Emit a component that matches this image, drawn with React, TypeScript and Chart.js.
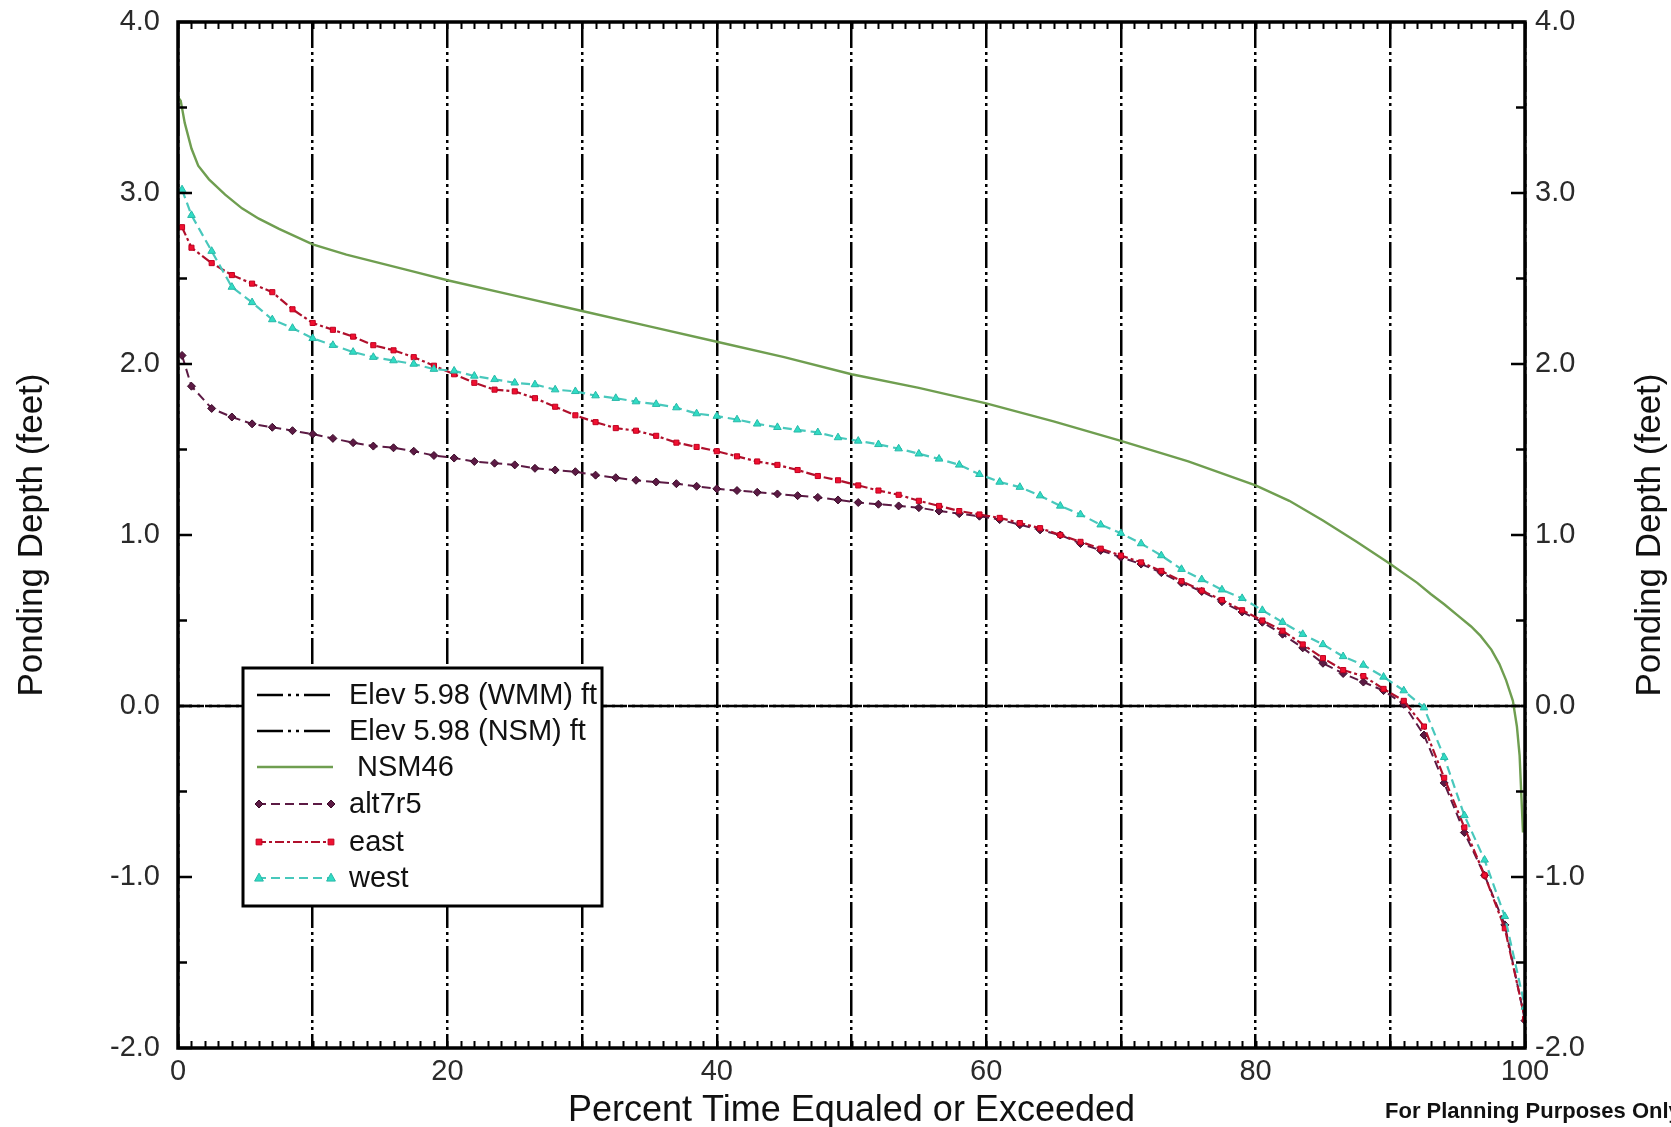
import React, { useEffect, useRef } from 'react';
import { Chart, registerables } from 'chart.js';

Chart.register(...registerables);

const FONT = "'Liberation Sans', Arial, Helvetica, sans-serif";

// Percent time equaled or exceeded (x) shared by the marked series
const pct = [0.3, 1, 2.5, 4, 5.5, 7, 8.5, 10, 11.5, 13, 14.5, 16, 17.5, 19, 20.5, 22, 23.5, 25, 26.5, 28, 29.5, 31, 32.5, 34, 35.5, 37, 38.5, 40, 41.5, 43, 44.5, 46, 47.5, 49, 50.5, 52, 53.5, 55, 56.5, 58, 59.5, 61, 62.5, 64, 65.5, 67, 68.5, 70, 71.5, 73, 74.5, 76, 77.5, 79, 80.5, 82, 83.5, 85, 86.5, 88, 89.5, 91, 92.5, 94, 95.5, 97, 98.5, 100];

const alt7r5 = [2.05, 1.87, 1.74, 1.69, 1.65, 1.63, 1.61, 1.59, 1.565, 1.54, 1.52, 1.51, 1.49, 1.465, 1.45, 1.43, 1.42, 1.41, 1.39, 1.38, 1.37, 1.35, 1.335, 1.32, 1.31, 1.30, 1.285, 1.27, 1.26, 1.25, 1.24, 1.23, 1.22, 1.205, 1.19, 1.18, 1.17, 1.16, 1.14, 1.125, 1.11, 1.09, 1.06, 1.03, 1.00, 0.95, 0.91, 0.87, 0.83, 0.78, 0.72, 0.67, 0.61, 0.55, 0.49, 0.42, 0.34, 0.25, 0.19, 0.14, 0.09, 0.01, -0.17, -0.45, -0.74, -0.99, -1.28, -1.84];

const east = [2.80, 2.68, 2.59, 2.52, 2.47, 2.42, 2.32, 2.24, 2.20, 2.16, 2.11, 2.08, 2.04, 1.99, 1.94, 1.89, 1.85, 1.84, 1.80, 1.75, 1.70, 1.66, 1.625, 1.61, 1.58, 1.54, 1.515, 1.49, 1.46, 1.43, 1.41, 1.38, 1.345, 1.32, 1.29, 1.26, 1.235, 1.20, 1.17, 1.14, 1.12, 1.10, 1.07, 1.04, 1.00, 0.96, 0.92, 0.88, 0.84, 0.79, 0.73, 0.675, 0.62, 0.56, 0.50, 0.44, 0.36, 0.28, 0.21, 0.175, 0.10, 0.03, -0.12, -0.42, -0.71, -0.99, -1.30, -1.83];

const west = [3.02, 2.87, 2.66, 2.45, 2.36, 2.26, 2.21, 2.15, 2.11, 2.07, 2.04, 2.02, 2.00, 1.97, 1.96, 1.93, 1.91, 1.89, 1.88, 1.85, 1.84, 1.815, 1.80, 1.78, 1.765, 1.745, 1.71, 1.695, 1.675, 1.65, 1.63, 1.615, 1.60, 1.57, 1.55, 1.53, 1.505, 1.475, 1.445, 1.41, 1.355, 1.31, 1.28, 1.23, 1.17, 1.12, 1.06, 1.01, 0.95, 0.88, 0.80, 0.74, 0.68, 0.63, 0.56, 0.49, 0.42, 0.36, 0.29, 0.24, 0.17, 0.09, -0.01, -0.30, -0.64, -0.90, -1.23, -1.76];

const nsmPct = [0, 0.2, 0.5, 1, 1.5, 2.3, 3.5, 4.75, 6, 7.5, 10, 12.5, 15, 17.5, 20, 25, 30, 35, 40, 45, 50, 55, 60, 65, 70, 75, 80, 82.5, 85, 87.5, 90, 92, 93, 94, 95, 96, 96.7, 97.5, 98.1, 98.6, 99.1, 99.4, 99.6, 99.85];
const nsm46 = [3.56, 3.54, 3.41, 3.26, 3.16, 3.08, 2.99, 2.91, 2.85, 2.79, 2.70, 2.64, 2.59, 2.54, 2.49, 2.40, 2.31, 2.22, 2.13, 2.04, 1.94, 1.86, 1.77, 1.665, 1.55, 1.43, 1.29, 1.20, 1.085, 0.96, 0.83, 0.72, 0.655, 0.595, 0.53, 0.465, 0.41, 0.33, 0.245, 0.15, 0.03, -0.12, -0.29, -0.74];

const elevPct = [0, 100];
const elevWMM = [0, 0];
const elevNSM = [0, 0];

const seriesLabels = ['Elev 5.98 (WMM) ft', 'Elev 5.98 (NSM) ft', ' NSM46', 'alt7r5', 'east', 'west'];
const xTitle = 'Percent Time Equaled or Exceeded';
const yTitle = 'Ponding Depth (feet)';
const footNote = 'For Planning Purposes Only';

const toPts = (xs: number[], ys: number[]) => xs.map((x, i) => ({ x, y: ys[i] }));

function drawMarker(ctx: CanvasRenderingContext2D, style: string, x: number, y: number, r: number, fill: string, stroke: string) {
  ctx.save();
  ctx.setLineDash([]);
  ctx.fillStyle = fill;
  ctx.strokeStyle = stroke;
  ctx.lineWidth = 1;
  ctx.beginPath();
  if (style === 'rect') {
    ctx.rect(x - r * 0.8, y - r * 0.8, 1.6 * r, 1.6 * r);
  } else if (style === 'rectRot') {
    ctx.moveTo(x, y - r);
    ctx.lineTo(x + r, y);
    ctx.lineTo(x, y + r);
    ctx.lineTo(x - r, y);
    ctx.closePath();
  } else if (style === 'triangle') {
    ctx.moveTo(x, y - r * 1.1);
    ctx.lineTo(x + r, y + r * 0.7);
    ctx.lineTo(x - r, y + r * 0.7);
    ctx.closePath();
  } else {
    ctx.arc(x, y, r, 0, Math.PI * 2);
  }
  ctx.fill();
  ctx.stroke();
  ctx.restore();
}

const framePlugin = {
  id: 'frameTicks',
  afterDatasetsDraw(chart: any) {
    const { ctx, chartArea } = chart;
    const { left, right, top, bottom } = chartArea;
    const xs = chart.scales.x;
    const ys = chart.scales.y;
    ctx.save();
    ctx.setLineDash([]);
    ctx.strokeStyle = '#000';
    ctx.lineWidth = 2;
    ctx.beginPath();
    for (let v = 0; v <= 100; v += 1) {
      const px = Math.round(xs.getPixelForValue(v)) + 0.5;
      ctx.moveTo(px, bottom);
      ctx.lineTo(px, bottom - 7);
      ctx.moveTo(px, top);
      ctx.lineTo(px, top + 7);
    }
    ctx.stroke();
    ctx.lineWidth = 2.5;
    ctx.beginPath();
    for (let k = -4; k <= 8; k++) {
      const py = ys.getPixelForValue(k / 2);
      const len = k % 2 === 0 ? 14 : 9;
      ctx.moveTo(left, py);
      ctx.lineTo(left + len, py);
      ctx.moveTo(right, py);
      ctx.lineTo(right - len, py);
    }
    ctx.stroke();
    ctx.lineWidth = 3.5;
    ctx.strokeRect(left, top, right - left, bottom - top);
    ctx.restore();
  },
};

const legendPlugin = {
  id: 'boxLegend',
  afterDraw(chart: any) {
    const ctx: CanvasRenderingContext2D = chart.ctx;
    const L = 243, T = 668, R = 602, B = 906;
    const rows = [695, 731, 767, 804, 842, 878];
    ctx.save();
    ctx.fillStyle = '#fff';
    ctx.fillRect(L, T, R - L, B - T);
    ctx.lineWidth = 3;
    ctx.strokeStyle = '#000';
    ctx.setLineDash([]);
    ctx.strokeRect(L, T, R - L, B - T);
    chart.data.datasets.forEach((ds: any, i: number) => {
      const y = rows[i];
      ctx.save();
      ctx.strokeStyle = ds.borderColor;
      ctx.lineWidth = ds.borderWidth;
      ctx.setLineDash(ds.borderDash || []);
      ctx.beginPath();
      ctx.moveTo(257, y);
      ctx.lineTo(333, y);
      ctx.stroke();
      ctx.restore();
      if (ds.pointRadius > 0) {
        drawMarker(ctx, ds.pointStyle, 259, y, ds.pointRadius, ds.pointBackgroundColor, ds.pointBorderColor);
        drawMarker(ctx, ds.pointStyle, 331, y, ds.pointRadius, ds.pointBackgroundColor, ds.pointBorderColor);
      }
      ctx.fillStyle = '#111';
      ctx.font = `29px ${FONT}`;
      ctx.textAlign = 'left';
      ctx.textBaseline = 'middle';
      ctx.fillText(ds.label, 349, y + 1);
    });
    ctx.restore();
  },
};

const titlePlugin = {
  id: 'titles',
  afterDraw(chart: any) {
    const ctx: CanvasRenderingContext2D = chart.ctx;
    const ca = chart.chartArea;
    ctx.save();
    ctx.fillStyle = '#111';
    ctx.font = `36px ${FONT}`;
    ctx.textAlign = 'center';
    ctx.textBaseline = 'alphabetic';
    ctx.fillText(xTitle, (ca.left + ca.right) / 2, 1121);
    const midY = (ca.top + ca.bottom) / 2;
    ctx.font = `35px ${FONT}`;
    ctx.save();
    ctx.translate(42, midY);
    ctx.rotate(-Math.PI / 2);
    ctx.fillText(yTitle, 0, 0);
    ctx.restore();
    ctx.save();
    ctx.translate(1660, midY);
    ctx.rotate(-Math.PI / 2);
    ctx.fillText(yTitle, 0, 0);
    ctx.restore();
    ctx.font = `bold 22px ${FONT}`;
    ctx.textAlign = 'left';
    ctx.fillText(footNote, 1385, 1118);
    ctx.restore();
  },
};

export default function App() {
  const ref = useRef<HTMLCanvasElement>(null);
  useEffect(() => {
    const canvas = ref.current;
    if (!canvas) return;
    const tickFont = { family: FONT, size: 29 };
    const yTickCb = (v: any) => Number(v).toFixed(1);
    const noPad = (s: any) => { s.paddingTop = 0; s.paddingBottom = 0; s.paddingLeft = 0; s.paddingRight = 0; };
    const chart = new Chart(canvas, {
      type: 'line',
      data: {
        datasets: [
          {
            label: seriesLabels[0], data: toPts(elevPct, elevWMM), borderColor: '#000', borderWidth: 2.5,
            borderDash: [26, 5, 3, 5, 3, 5], pointRadius: 0, order: 10, yAxisID: 'y',
          },
          {
            label: seriesLabels[1], data: toPts(elevPct, elevNSM), borderColor: '#000', borderWidth: 2.5,
            borderDash: [26, 5, 3, 5, 3, 5], borderDashOffset: 20, pointRadius: 0, order: 9, yAxisID: 'y',
          },
          {
            label: seriesLabels[2], data: toPts(nsmPct, nsm46), borderColor: '#6f9e50', borderWidth: 2.4,
            pointRadius: 0, order: 5, yAxisID: 'y',
          },
          {
            label: seriesLabels[3], data: toPts(pct, alt7r5), borderColor: '#5c1a44', borderWidth: 2,
            borderDash: [9, 5], pointStyle: 'rectRot', pointRadius: 4, pointBackgroundColor: '#5c1a44',
            pointBorderColor: '#3a0a28', pointBorderWidth: 1, order: 3, yAxisID: 'y',
          },
          {
            label: seriesLabels[4], data: toPts(pct, east), borderColor: '#b0102c', borderWidth: 2.2,
            borderDash: [9, 3, 3, 3], pointStyle: 'rect', pointRadius: 3.6, pointBackgroundColor: '#f01030',
            pointBorderColor: '#c00020', pointBorderWidth: 1, order: 2, yAxisID: 'y',
          },
          {
            label: seriesLabels[5], data: toPts(pct, west), borderColor: '#48c8bc', borderWidth: 2.2,
            borderDash: [9, 5], pointStyle: 'triangle', pointRadius: 4.4, pointBackgroundColor: '#30dcc4',
            pointBorderColor: '#28b8a8', pointBorderWidth: 1, order: 1, yAxisID: 'y',
          },
        ] as any,
      },
      options: {
        animation: false,
        responsive: false,
        maintainAspectRatio: false,
        layout: { padding: { top: 22, left: 0, right: 0, bottom: 0 } },
        elements: { line: { tension: 0 } },
        plugins: { legend: { display: false }, tooltip: { enabled: false }, title: { display: false } },
        scales: {
          x: {
            type: 'linear', position: 'bottom', min: 0, max: 100,
            ticks: {
              stepSize: 10, autoSkip: false, maxRotation: 0, padding: 7, color: '#2a2a2a', font: tickFont,
              callback: (v: any) => (Number(v) % 20 === 0 ? String(v) : ''),
            },
            grid: { display: true, drawTicks: false, color: '#000', lineWidth: 2.5 },
            border: { display: false, dash: [26, 4, 3, 4, 3, 4] },
            afterFit: (s: any) => { s.height = 79; noPad(s); },
          },
          y: {
            type: 'linear', position: 'left', min: -2, max: 4,
            ticks: { stepSize: 1, autoSkip: false, padding: 18, color: '#2a2a2a', font: tickFont, callback: yTickCb },
            grid: { display: false, drawTicks: false },
            border: { display: false },
            afterFit: (s: any) => { s.width = 178; noPad(s); },
          },
          y2: {
            type: 'linear', position: 'right', min: -2, max: 4,
            ticks: { stepSize: 1, autoSkip: false, padding: 10, color: '#2a2a2a', font: tickFont, callback: yTickCb },
            grid: { display: false, drawTicks: false },
            border: { display: false },
            afterFit: (s: any) => { s.width = 146; noPad(s); },
          },
        },
      } as any,
      plugins: [framePlugin, legendPlugin, titlePlugin],
    });
    return () => chart.destroy();
  }, []);
  return (
    <div style={{ position: 'absolute', left: 0, top: 0, width: 1671, height: 1127, background: '#fff' }}>
      <canvas ref={ref} width={1671} height={1127} style={{ width: 1671, height: 1127, display: 'block' }} />
    </div>
  );
}
